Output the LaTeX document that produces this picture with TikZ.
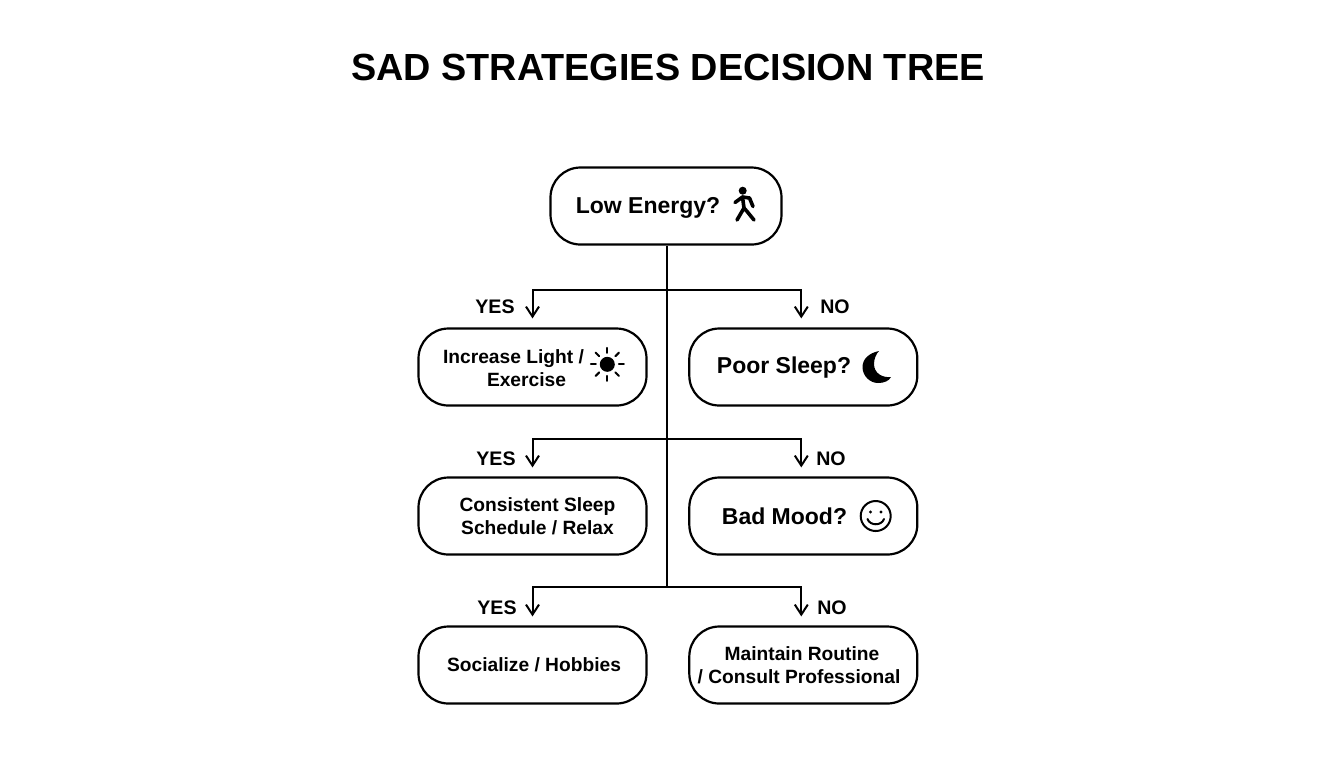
\documentclass[tikz,border=0pt]{standalone}
\usepackage{fontspec}
\setmainfont{Liberation Sans}
\usetikzlibrary{arrows.meta}

\tikzset{
  box/.style={draw,line width=1.1pt,rounded corners=15pt,minimum height=38.5pt},
  wide/.style={box,minimum width=114pt},
  top/.style={box,minimum width=115.5pt},
  caption/.style={font=\bfseries\fontsize{9.6}{11.4}\selectfont,align=center,inner sep=0pt},
  bigcaption/.style={font=\bfseries\fontsize{11.5}{14}\selectfont,align=center,inner sep=0pt},
  answer/.style={font=\bfseries\fontsize{9.8}{12}\selectfont,inner sep=0pt},
  tree/.style={line width=1pt},
  branch/.style={tree,->,>={Straight Barb[length=5pt,width=6.5pt]},shorten >=4.5pt},
  icon/.style={line width=1pt,line cap=round}
}

\begin{document}
\begin{tikzpicture}[x=0.5pt,y=-0.5pt]
    \useasboundingbox (0,0) rectangle (1344,768);
    \node (heading) at (668,67) {\bfseries\fontsize{18.9}{22}\selectfont SAD STRATEGIES DECISION TREE};

    \node (energy) [top] at (666,206) {};
    \node (light) [wide] at (532.5,367) {};
    \node (sleep) [wide] at (803.3,367) {};
    \node (schedule) [wide] at (532.5,516) {};
    \node (mood) [wide] at (803.3,516) {};
    \node (hobbies) [wide] at (532.5,665) {};
    \node (routine) [wide] at (803.3,665) {};

    \node (energytext) [bigcaption] at (648,208) {Low Energy?};
    \node (lighttext) [caption] at (513.5,368) {Increase Light /\\\hspace*{13pt}Exercise};
    \node (sleeptext) [bigcaption] at (784,368) {Poor Sleep?};
    \node (scheduletext) [caption] at (537.5,516.5) {Consistent Sleep\\Schedule / Relax};
    \node (moodtext) [bigcaption] at (784.5,516) {Bad Mood?};
    \node (hobbiestext) [caption] at (534,665) {Socialize / Hobbies};
    \node (routinetext) [caption] at (799,665) {\hspace*{3pt}Maintain Routine\\/ Consult Professional};

    \coordinate (fork1) at (667,290);
    \coordinate (fork2) at (667,439);
    \coordinate (fork3) at (667,587);
    \draw[tree] (energy.south -| fork1) -- (fork3);
    \draw[branch] (fork1) -| (light.north);
    \draw[branch] (fork1) -| ([xshift=-1pt]sleep.north);
    \draw[branch] (fork2) -| (schedule.north);
    \draw[branch] (fork2) -| ([xshift=-1pt]mood.north);
    \draw[branch] (fork3) -| (hobbies.north);
    \draw[branch] (fork3) -| ([xshift=-1pt]routine.north);

    \node (yes1) [answer] at (495,307) {YES};
    \node (no1) [answer] at (835,307) {NO};
    \node (yes2) [answer] at (496,458.5) {YES};
    \node (no2) [answer] at (831,458.5) {NO};
    \node (yes3) [answer] at (497,607.5) {YES};
    \node (no3) [answer] at (832,607.5) {NO};

    % walker
    \fill (742.7,190.7) circle (4);
    \draw[line width=1.8pt,line cap=round,line join=round] (735,202.5) -- (742.5,197) -- (744,208) -- (737,220);
    \draw[line width=1.8pt,line cap=round,line join=round] (742.5,197) -- (749.5,198) -- (753,206.5);
    \draw[line width=1.8pt,line cap=round,line join=round] (744,208) -- (747.5,212) -- (754,220);
    % sun
    \fill (607.3,364.3) circle (7.5);
    \foreach \ang in {0,45,...,315}
      \draw[icon] (607.3,364.3) ++(\ang:11.5) -- ++(\ang:5);
    % moon
    \fill (879,351) .. controls (869,353) and (862.5,359) .. (862.5,367)
      .. controls (862.5,376) and (870,383) .. (878,383)
      .. controls (884,383) and (889,381) .. (891,377)
      .. controls (882,378) and (874,373) .. (874,364)
      .. controls (874,359) and (876,354) .. (879,351) -- cycle;
    % smile
    \draw[icon] (875.7,516) circle (15);
    \fill (870.5,512) circle (1.7);
    \fill (881,512) circle (1.7);
    \draw[icon] (867.5,519) .. controls (870,526) and (881.5,526) .. (884,519);
  \end{tikzpicture}
\end{document}
